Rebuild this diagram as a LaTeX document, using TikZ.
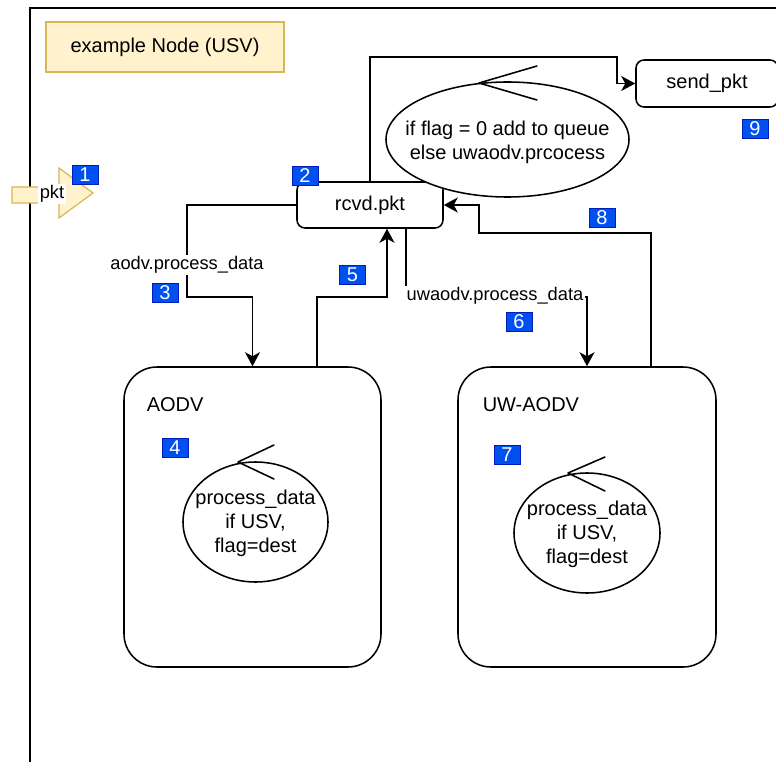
\documentclass[tikz,border=0pt]{standalone}
\usepackage{fontspec}
\setmainfont{Liberation Sans}
\usetikzlibrary{shapes.geometric,arrows.meta,calc}
\definecolor{noteFill}{HTML}{FFF2CC}
\definecolor{noteLine}{HTML}{D6B656}
\definecolor{tagFill}{HTML}{0050EF}
\definecolor{tagLine}{HTML}{001DBC}

\begin{document}
\begin{tikzpicture}[x=1pt,y=-1pt,line width=1.55pt,
  every node/.style={font=\fontsize{20}{24}\selectfont,inner sep=0pt},
  note/.style={draw=noteLine,fill=noteFill,line width=1.2pt},
  procbox/.style={draw,fill=white,rounded corners=8pt},
  layer/.style={draw,fill=white,rounded corners=33pt},
  ctrl/.style={draw,fill=white,ellipse},
  ctrltext/.style={align=center},
  tag/.style={draw=tagLine,fill=tagFill,text=white,line width=0.8pt,
    minimum width=26pt,minimum height=19pt,font=\fontsize{20}{20}\selectfont},
  elabel/.style={fill=white,font=\fontsize{18.3}{22}\selectfont,inner sep=1.5pt},
  flow/.style={-{Stealth[length=14pt,width=15pt,inset=4pt]}},
  hook/.style={line join=round,line cap=round}
]
\useasboundingbox (0,0) rectangle (776,762);

% outer frame of the node
\draw (30,770) -- (30,8) -- (790,8);

% title
\node[note,minimum width=238pt,minimum height=50pt] (title) at (165,47) {example Node (USV)};

% incoming packet arrow
\draw[note,line join=miter] (12,187) -- (59,187) -- (59,168) -- (93,193) -- (59,218) -- (59,203) -- (12,203) -- cycle;
\node[elabel] (pkt) at (52,194) {pkt};

% protocol layers
\node[layer,minimum width=257pt,minimum height=300pt] (aodv) at (252.5,517) {};
\node[anchor=west] (aodvname) at (146,405) {AODV};
\node[layer,minimum width=258pt,minimum height=300pt] (uw) at (587,517) {};
\node[anchor=west] (uwname) at (482,405) {UW-AODV};

% processing boxes
\node[procbox,minimum width=146pt,minimum height=46pt] (rcvd) at (370,205) {rcvd.pkt};
\node[procbox,minimum width=142pt,minimum height=47pt] (send) at (707,83.5) {send\_pkt};

% connectors
\draw[flow] (rcvd.north) |- (617,57) |- (send.west);
\draw[flow] (rcvd.west) -| (187,297) -| (aodv.north);
\draw[flow] (aodv.north -| 317,0) |- (387,297) -- (rcvd.south -| 387,0);
\draw[flow] (rcvd.south -| 406,0) |- (587,297) -- (uw.north);
\draw[flow] (uw.north -| 651,0) |- (479,233) |- (rcvd.east);

\node[elabel] (l3) at (187,265) {aodv.process\_data};
\node[elabel] (l6) at (495,296) {uwaodv.process\_data};

% control shapes
\node[ctrl,minimum width=243pt,minimum height=115pt] (queue) at (507.5,139.5) {};
\draw[hook] ($(queue.center)+(29.5,-73.5)$) -- ++(-58,17) -- ++(58,17);
\node[ctrltext] (queuetext) at (507.5,142.5) {if flag = 0 add to queue\\else uwaodv.prcocess};

\node[ctrl,minimum width=145pt,minimum height=120pt] (ctlA) at (255.5,522) {};
\draw[hook] ($(ctlA.center)+(18.5,-77)$) -- ++(-36,17) -- ++(36,17);
\node[ctrltext] (ctlAtext) at (255.5,523) {process\_data\\if USV,\\flag=dest};

\node[ctrl,minimum width=146pt,minimum height=120pt] (ctlB) at (587,533) {};
\draw[hook] ($(ctlB.center)+(18,-76)$) -- ++(-37,16) -- ++(37,18);
\node[ctrltext] (ctlBtext) at (587,534) {process\_data\\if USV,\\flag=dest};

% step tags
\node[tag] (t1) at (85,175) {1};
\node[tag] (t2) at (305,175.5) {2};
\node[tag] (t3) at (165,293) {3};
\node[tag] (t4) at (175,448) {4};
\node[tag] (t5) at (352.5,275) {5};
\node[tag] (t6) at (519,321.5) {6};
\node[tag] (t7) at (507,454.5) {7};
\node[tag] (t8) at (602,218) {8};
\node[tag] (t9) at (755,128.5) {9};
\end{tikzpicture}
\end{document}
